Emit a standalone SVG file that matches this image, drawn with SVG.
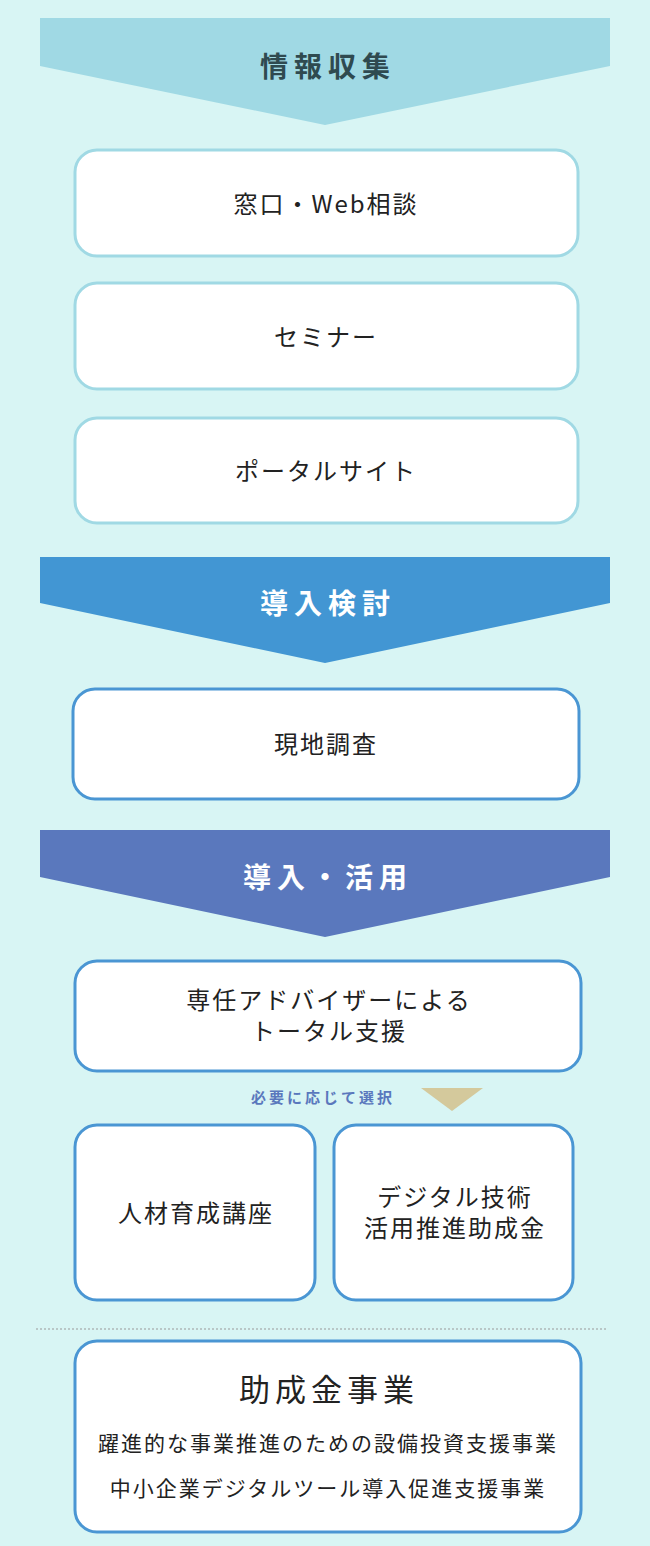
<svg xmlns="http://www.w3.org/2000/svg" width="650" height="1546" viewBox="0 0 650 1546">
<style>
.t{font-family:"Noto Sans CJK JP","Noto Sans",sans-serif;fill:#222;text-anchor:middle;font-size:24px;letter-spacing:2px}
.h{font-family:"Noto Sans CJK JP","Noto Sans",sans-serif;font-weight:bold;font-size:28px;text-anchor:middle;letter-spacing:6px}
.s{font-size:21px;letter-spacing:2px}
.big{font-size:31px;letter-spacing:5px}
.b1{fill:#fff;stroke:#a0d9e4;stroke-width:3}
.b2{fill:#fff;stroke:#4a96d3;stroke-width:3}
</style>
<rect width="650" height="1546" fill="#d8f5f4"/>
<g id="banner1"><polygon points="40,18 610,18 610,66 325,125 40,66" fill="#a0d9e4"/><text class="h" x="328" y="77" fill="#2f4a50">情報収集</text></g>
<g id="n1"><rect class="b1" x="75" y="150" width="503" height="106" rx="22"/><text class="t" x="326" y="213">窓口・Web相談</text></g>
<g id="n2"><rect class="b1" x="75" y="283" width="503" height="106" rx="22"/><text class="t" x="326" y="346">セミナー</text></g>
<g id="n3"><rect class="b1" x="75" y="418" width="503" height="105" rx="22"/><text class="t" x="326" y="480">ポータルサイト</text></g>
<g id="banner2"><polygon points="40,557 610,557 610,603 325,663 40,603" fill="#4296d3"/><text class="h" x="328" y="614" fill="#fff">導入検討</text></g>
<g id="n4"><rect class="b2" x="73" y="689" width="506" height="110" rx="22"/><text class="t" x="326" y="753">現地調査</text></g>
<g id="banner3"><polygon points="40,830 610,830 610,877 325,937 40,877" fill="#5a78bd"/><text class="h" x="328" y="888" fill="#fff">導入・活用</text></g>
<g id="n5"><rect class="b2" x="75" y="961" width="506" height="110" rx="22"/><text class="t" x="329" y="1009">専任アドバイザーによる</text><text class="t" x="329" y="1040">トータル支援</text></g>
<g id="sel"><text x="323" y="1103" font-family="Noto Sans CJK JP,sans-serif" font-size="15" letter-spacing="3" font-weight="bold" fill="#5a78bd" text-anchor="middle">必要に応じて選択</text><polygon points="421,1088 483,1088 452,1111" fill="#d4c99c"/></g>
<g id="n6"><rect class="b2" x="75" y="1125" width="240" height="175" rx="22"/><text class="t" x="196" y="1222">人材育成講座</text></g>
<g id="n7"><rect class="b2" x="334" y="1125" width="239" height="175" rx="22"/><text class="t" x="455" y="1206">デジタル技術</text><text class="t" x="455" y="1237">活用推進助成金</text></g>
<g id="connectors"><line x1="36" y1="1329" x2="606" y2="1329" stroke="#999" stroke-width="1.2" stroke-dasharray="2,2"/></g>
<g id="n8"><rect class="b2" x="75" y="1341" width="506" height="191" rx="22"/><text class="t big" x="329" y="1401">助成金事業</text><text class="t s" x="328" y="1451">躍進的な事業推進のための設備投資支援事業</text><text class="t s" x="328" y="1496">中小企業デジタルツール導入促進支援事業</text></g>
</svg>
